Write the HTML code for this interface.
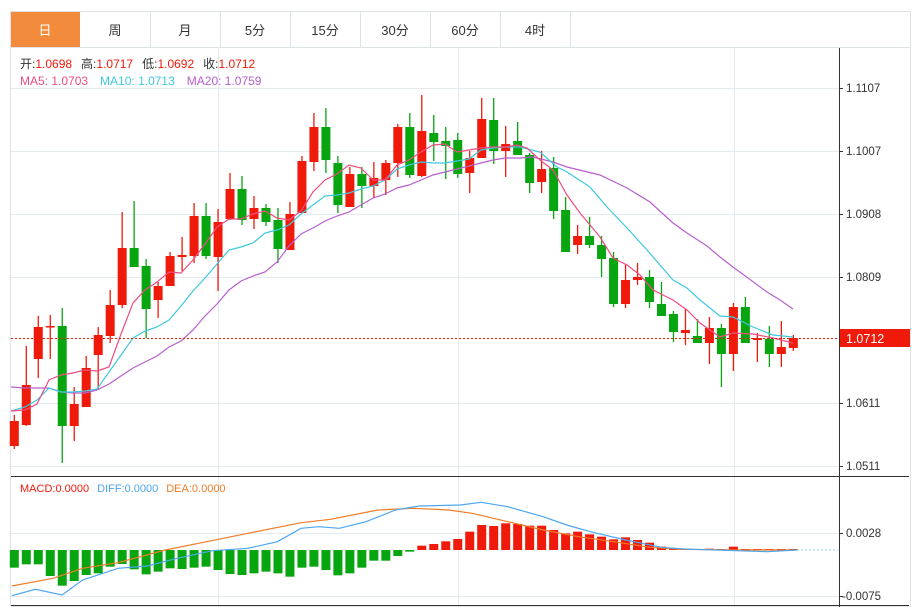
<!DOCTYPE html>
<html><head><meta charset="utf-8"><style>
body{margin:0;background:#fff;width:921px;height:607px;overflow:hidden;font-family:"Liberation Sans","Noto Sans CJK SC",sans-serif}
</style></head><body>
<svg id="s" width="921" height="607" xmlns="http://www.w3.org/2000/svg" style="position:absolute;left:0;top:0"></svg>
<script>
const NS="http://www.w3.org/2000/svg";let h='';
const F='font-family="Liberation Sans, Noto Sans CJK SC, sans-serif"';
// tabs
h+='<rect x="10.5" y="11.5" width="900" height="595" fill="none" stroke="#dde3e8"/>';
h+='<rect x="11" y="12" width="69" height="35" fill="#f28c3c"/>';
const tabs=['日','周','月','5分','15分','30分','60分','4时'];
tabs.forEach((t,i)=>{const x=10+70*i;
 if(i>0)h+=`<line x1="${x+70.5}" y1="12" x2="${x+70.5}" y2="47" stroke="#dde3e8"/>`;
 h+=`<text x="${x+35}" y="35" text-anchor="middle" font-size="13" fill="${i==0?'#fff':'#333'}" ${F}>${t}</text>`;});
h+='<line x1="10" y1="47.5" x2="910" y2="47.5" stroke="#dde3e8"/>';
// grids
[88,151,214,277,403,466].forEach(y=>h+=`<line x1="11" y1="${y+.5}" x2="839" y2="${y+.5}" stroke="#e4ebf0"/>`);
[533,596].forEach(y=>h+=`<line x1="11" y1="${y+.5}" x2="839" y2="${y+.5}" stroke="#e4ebf0"/>`);
[218,458,734].forEach(x=>{h+=`<line x1="${x+.5}" y1="48" x2="${x+.5}" y2="476" stroke="#e4ebf0"/><line x1="${x+.5}" y1="477" x2="${x+.5}" y2="605" stroke="#e4ebf0"/>`;});
// axes
h+='<line x1="839.5" y1="48" x2="839.5" y2="607" stroke="#333"/>';
h+='<line x1="11" y1="476.5" x2="909" y2="476.5" stroke="#333"/>';
h+='<line x1="11" y1="605.5" x2="909" y2="605.5" stroke="#333"/>';
const pl=[[88,'1.1107'],[151,'1.1007'],[214,'1.0908'],[277,'1.0809'],[403,'1.0611'],[466,'1.0511'],[533,'0.0028'],[596,'-0.0075']];
pl.forEach(([y,t])=>{h+=`<line x1="839" y1="${y+.5}" x2="843" y2="${y+.5}" stroke="#333"/><text x="${t[0]=='-'?842:846}" y="${y+4}" font-size="11.5" fill="#333" ${F}>${t}</text>`;});
// candles
const C=[['R',421,446,415,449],['R',385,425,346,426],['R',327,359,316,378],['R',326,327,315,359],['G',326,426,308,463],['R',404,426,387,441],['R',368,407,356,407],['R',335,355,327,389],['R',305,336,290,343],['R',248,305,212,308],['G',248,267,201,267],['G',266,309,259,338],['R',286,300,282,318],['R',256,286,252,286],['R',255,257,237,271],['R',216,256,203,263],['G',216,256,203,259],['R',222,257,209,291],['R',189,219,173,220],['G',189,220,176,225],['R',208,219,196,229],['G',208,222,204,226],['G',220,249,208,263],['R',214,250,202,250],['R',161,213,156,213],['R',127,162,113,171],['G',127,160,108,173],['G',163,205,156,213],['R',174,207,167,207],['G',174,186,167,208],['R',178,186,162,198],['R',163,180,160,195],['R',127,163,124,177],['G',127,175,113,178],['R',131,176,95,177],['G',133,142,115,161],['G',141,146,127,179],['G',140,174,133,178],['R',158,173,151,193],['R',119,158,98,158],['G',120,151,98,164],['R',144,151,126,177],['G',141,155,122,155],['G',155,183,153,193],['R',169,182,151,193],['G',168,211,157,219],['G',210,252,197,252],['R',236,245,225,254],['G',236,245,217,248],['G',245,259,236,277],['G',258,304,252,307],['R',280,304,264,308],['R',277,280,263,285],['G',277,302,270,308],['G',304,316,282,316],['G',314,332,311,342],['R',330,333,309,345],['G',336,343,319,343],['R',328,343,317,364],['G',328,354,324,387],['R',307,354,303,371],['G',307,343,297,343],['R',338,340,333,362],['G',339,354,326,367],['R',347,354,321,367],['R',338,348,335,351]];
const X=i=>14.3+11.985*i;
C.forEach((c,i)=>{const col=c[0]=='R'?'#f01a0a':'#07a50f';const x=X(i);
 h+=`<line x1="${x}" y1="${c[3]}" x2="${x}" y2="${c[4]}" stroke="${col}" stroke-width="1.3"/>`;
 h+=`<rect x="${x-4.5}" y="${c[1]}" width="9" height="${Math.max(1.5,c[2]-c[1])}" fill="${col}"/>`;});
const poly=(p,col,w)=>h+=`<polyline points="${p.map(q=>q.join(',')).join(' ')}" fill="none" stroke="${col}" stroke-width="${w||1.2}"/>`;
poly([[11,387],[25,388],[37,388],[49,388],[61,392],[73,393],[85,393],[97,390],[109,384],[121,376],[133,368],[145,362],[157,356],[169,347],[181,341],[193,330],[205,316],[217,304],[229,290],[241,281],[253,276],[265,272],[277,262],[289,246],[301,234],[313,228],[325,221],[337,216],[349,212],[361,205],[373,198],[385,194],[397,188],[409,185],[421,180],[433,175],[445,172],[457,169],[469,166],[481,163],[493,160],[505,158],[520,158],[533,157],[553,162],[567,167],[600,175],[627,188],[650,202],[673,223],[687,233],[707,246],[720,257],[733,267],[767,292],[780,300],[793,309]],'#b75fcc');
poly([[11,411],[25,407],[37,400],[49,388],[61,392],[73,392],[85,391],[97,389],[109,372],[121,355],[133,338],[145,331],[157,327],[169,320],[181,306],[193,291],[205,278],[217,264],[229,250],[241,247],[253,243],[265,233],[277,230],[289,225],[301,214],[313,205],[325,196],[337,195],[349,193],[361,189],[373,186],[385,180],[397,169],[409,165],[421,162],[433,163],[445,163],[457,161],[469,159],[481,150],[493,148],[505,147],[520,147],[540,152],[557,167],[567,172],[590,187],[607,207],[627,228],[647,250],[673,280],[687,288],[700,300],[720,316],[733,317],[753,327],[773,335],[793,337]],'#3ec9df');
poly([[11,411],[25,410],[37,404],[49,380],[61,375],[73,373],[85,370],[97,371],[109,367],[121,334],[133,303],[145,290],[157,282],[169,272],[181,273],[193,260],[205,244],[217,227],[229,219],[241,219],[253,214],[265,211],[277,218],[289,220],[301,211],[313,192],[325,180],[337,174],[349,165],[361,168],[373,180],[385,180],[397,165],[409,160],[421,152],[433,145],[445,144],[457,152],[469,150],[481,148],[493,147],[505,147],[517,145],[527,148],[540,160],[553,170],[567,195],[580,213],[600,237],[613,258],[627,265],[640,275],[653,290],[673,300],[687,310],[700,323],[720,337],[733,333],[753,334],[773,338],[793,343]],'#ee4d82');
// current price line
h+='<line x1="11" y1="338.5" x2="839" y2="338.5" stroke="#f01a0a" stroke-dasharray="2,2"/>';
h+='<rect x="840" y="329" width="70" height="18" fill="#f01a0a"/><text x="846" y="343" font-size="12.5" fill="#fff" '+F+'>1.0712</text>';
// legend
h+=`<text y="68" font-size="12" ${F}><tspan x="20" fill="#333">开:</tspan><tspan fill="#f01a0a">1.0698</tspan><tspan dx="9" fill="#333">高:</tspan><tspan fill="#f01a0a">1.0717</tspan><tspan dx="9" fill="#333">低:</tspan><tspan fill="#f01a0a">1.0692</tspan><tspan dx="9" fill="#333">收:</tspan><tspan fill="#f01a0a">1.0712</tspan></text>`;
h+=`<text y="85" font-size="12" ${F}><tspan x="20" fill="#ee4d82">MA5: 1.0703</tspan><tspan dx="12" fill="#3ec9df">MA10: 1.0713</tspan><tspan dx="12" fill="#b75fcc">MA20: 1.0759</tspan></text>`;
h+=`<text y="492" font-size="11" ${F}><tspan x="20" fill="#f01a0a">MACD:0.0000</tspan><tspan dx="8" fill="#4da6f0">DIFF:0.0000</tspan><tspan dx="8" fill="#f07c28">DEA:0.0000</tspan></text>`;
// macd bars
const Z=550;
const G=[293,283,283,318,347,333,315,310,290,282,298,313,305,295,297,293,290,300,312,315,310,305,310,320,293,290,300,316,310,293,272,272,258,245];
const Rr=[227,222,214,207,185,165,168,160,162,167,167,180,190,185,193,200,208,202,210,218,230,235,238,238,236,240,230,240,240,240,240,240];
G.forEach((v,i)=>{const y=470+v/3;const x=X(i);h+=`<rect x="${x-4.5}" y="${Z}" width="9" height="${Math.max(1,y-Z)}" fill="#07a50f"/>`;});
Rr.forEach((v,j)=>{const i=34+j;if(i>65)return;const y=470+v/3;const x=X(i);h+=`<rect x="${x-4.5}" y="${Math.min(y,Z-1)}" width="9" height="${Math.max(1,Z-y)}" fill="#f01a0a"/>`;});
const mp=a=>a.map(([x,y])=>[ (x/1.694).toFixed(1),(470+y/3).toFixed(1)]);
poly(mp([[20,348],[90,325],[140,295],[200,278],[280,240],[350,215],[420,190],[510,158],[560,148],[640,120],[700,115],[760,120],[800,130],[860,155],[920,180],[980,200],[1040,215],[1100,232],[1150,238],[1250,240],[1350,240]]),'#f07c28');
poly(mp([[20,377],[60,358],[105,375],[140,330],[200,295],[250,288],[300,265],[360,242],[420,235],[470,215],[510,175],[540,170],[575,175],[620,155],[670,120],[710,108],[780,105],[815,97],[860,110],[920,140],[960,165],[1000,185],[1060,210],[1120,232],[1160,237],[1300,245],[1350,240]]),'#4da6f0');
h+='<line x1="797" y1="550" x2="838" y2="550" stroke="#8fd0ec" stroke-dasharray="2,2"/>';
document.getElementById('s').innerHTML=h;
</script>
</body></html>
